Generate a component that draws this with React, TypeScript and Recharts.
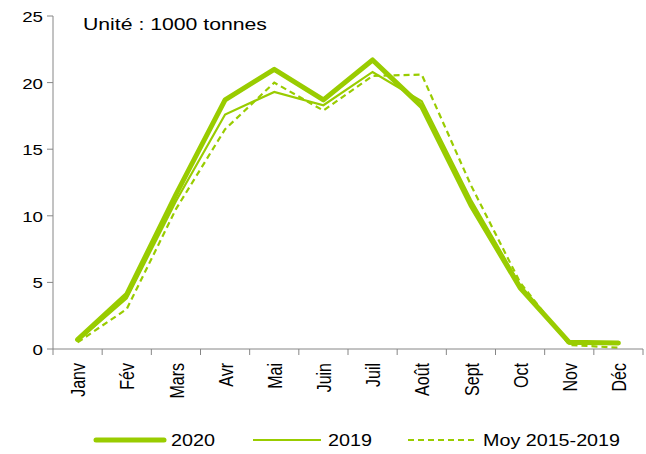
import { Legend, Line, LineChart, XAxis, YAxis } from 'recharts';

const months = ['Janv', 'Fév', 'Mars', 'Avr', 'Mai', 'Juin', 'Juil', 'Août', 'Sept', 'Oct', 'Nov', 'Déc'];
const y2020 = [0.7, 4.1, 11.6, 18.7, 21.0, 18.7, 21.7, 18.2, 10.8, 4.6, 0.5, 0.45];
const y2019 = [0.6, 3.8, 11.1, 17.6, 19.3, 18.3, 20.8, 18.6, 11.2, 4.8, 0.4, 0.4];
const moy = [0.5, 3.0, 10.5, 16.5, 20.0, 17.9, 20.5, 20.6, 12.3, 5.0, 0.3, 0.1];
const yTicks = [0, 5, 10, 15, 20, 25];

const GREEN = '#99cc00';
const AXIS = '#868686';
const FONT = '"Liberation Sans", Arial, sans-serif';
const BAND = 590 / 12;

const data = months.map((m, i) => ({ m, y2020: y2020[i], y2019: y2019[i], moy: moy[i] }));

function MonthTick(props: any) {
  const { x, y, payload, index } = props;
  const left = x - BAND / 2;
  return (
    <g>
      <line x1={left} x2={left} y1={y - 8} y2={y - 2} stroke={AXIS} />
      {index === months.length - 1 && (
        <line x1={x + BAND / 2} x2={x + BAND / 2} y1={y - 8} y2={y - 2} stroke={AXIS} />
      )}
      <text
        transform={`translate(${x + 1},${y + 6}) rotate(-90) scale(1,1.25)`}
        textAnchor="end"
        dominantBaseline="central"
        fontSize={16}
        fontFamily={FONT}
        fill="#000"
      >
        {payload.value}
      </text>
    </g>
  );
}

function ValueTick(props: any) {
  const { x, y, payload } = props;
  return (
    <text
      transform={`translate(${x - 2},${y + 6}) scale(1.25,1)`}
      textAnchor="end"
      fontSize={15}
      fontFamily={FONT}
      fill="#000"
    >
      {payload.value}
    </text>
  );
}

function LegendBox() {
  const item = (x: number, label: string, w: number, width: number, dash?: string) => (
    <g key={label}>
      <line x1={x} x2={x + 68} y1={31} y2={31} stroke={GREEN} strokeWidth={w} strokeLinecap={w > 3 ? 'round' : 'butt'} strokeDasharray={dash} />
      <text x={x + 75} y={37} fontSize={16} fontFamily={FONT} fill="#000" textLength={width} lengthAdjust="spacingAndGlyphs">
        {label}
      </text>
    </g>
  );
  return (
    <svg width={646} height={45} style={{ display: 'block' }}>
      {item(96, '2020', 5, 44)}
      {item(253, '2019', 2, 44)}
      {item(408, 'Moy 2015-2019', 2.2, 137, '6 4')}
    </svg>
  );
}

export default function App() {
  return (
    <div style={{ position: 'relative', width: 646, height: 454, background: '#fff' }}>
      <style>{'body{margin:0}'}</style>
      <LineChart width={646} height={454} data={data} margin={{ top: 16, right: 3, left: 0, bottom: 0 }}>
        <XAxis
          dataKey="m"
          scale="band"
          height={60}
          stroke={AXIS}
          tickLine={false}
          tick={<MonthTick />}
          interval={0}
        />
        <YAxis
          domain={[0, 25]}
          ticks={yTicks}
          width={53}
          stroke={AXIS}
          tickSize={6}
          tickLine={{ stroke: AXIS }}
          tick={<ValueTick />}
          interval={0}
        />
        <Legend verticalAlign="bottom" height={45} wrapperStyle={{ left: 0, width: 646 }} content={() => <LegendBox />} />
        <Line dataKey="moy" stroke={GREEN} strokeWidth={2.2} strokeDasharray="6 4" dot={false} isAnimationActive={false} />
        <Line dataKey="y2019" stroke={GREEN} strokeWidth={2.2} dot={false} isAnimationActive={false} />
        <Line dataKey="y2020" stroke={GREEN} strokeWidth={5} strokeLinecap="round" strokeLinejoin="round" dot={false} isAnimationActive={false} />
      </LineChart>
      <svg width={646} height={40} style={{ position: 'absolute', left: 0, top: 0, pointerEvents: 'none' }}>
        <text x={83} y={30} fontSize={17} fontFamily={FONT} fill="#000" textLength={184} lengthAdjust="spacingAndGlyphs">
          Unité : 1000 tonnes
        </text>
      </svg>
    </div>
  );
}
